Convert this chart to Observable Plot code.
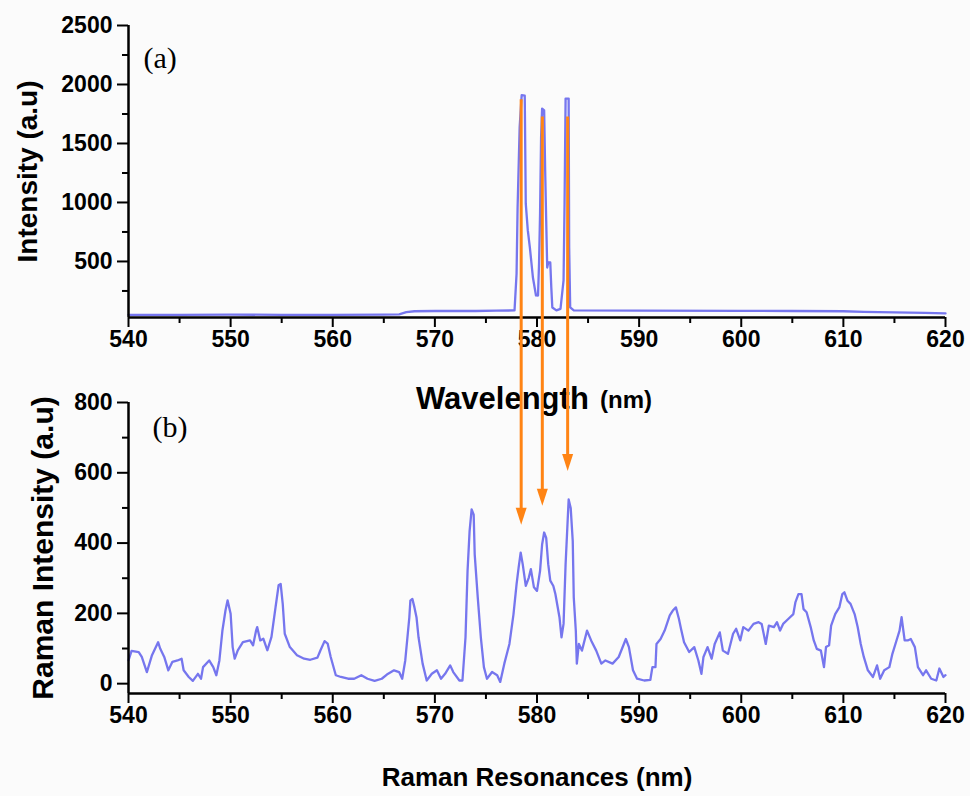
<!DOCTYPE html>
<html><head><meta charset="utf-8">
<script src="https://cdn.jsdelivr.net/npm/d3@7"></script>
<script src="https://cdn.jsdelivr.net/npm/@observablehq/plot@0.6"></script>
<style>
body{margin:0;background:#fbfbfb;}
#wrap{position:relative;width:970px;height:796px;background:#fbfbfb;font-family:"Liberation Sans",Arial,sans-serif;}
#wrap svg{position:absolute;left:0;}
</style></head><body><div id="wrap"></div>
<script>
// ---- data ----
const xDomain = [540, 620];
const xTicks = [540, 550, 560, 570, 580, 590, 600, 610, 620];
const xMinorTicks = [545, 555, 565, 575, 585, 595, 605, 615];

const topYDomain = [25, 2500];
const topYTicks = [500, 1000, 1500, 2000, 2500];
const topYMinor = [250, 750, 1250, 1750, 2250];

const ramanYDomain = [-28, 800];
const ramanYTicks = [0, 200, 400, 600, 800];
const ramanYMinor = [100, 300, 500, 700];

const topWavelength = [540, 545, 550, 555, 560, 565, 566.5, 567.2, 568, 570, 572, 574, 576, 577.8, 578.0, 578.1, 578.3, 578.5, 578.8, 578.9, 579.1, 579.3, 579.6, 579.9, 580.1, 580.2, 580.3, 580.4, 580.5, 580.7, 580.8, 580.9, 581.0, 581.1, 581.3, 581.4, 581.5, 581.9, 582.3, 582.6, 582.7, 582.8, 583.1, 583.15, 583.25, 583.6, 590, 600, 605, 610, 612, 615, 618, 620];
const topIntensity = [48, 48, 49, 48, 48, 49, 52, 70, 78, 80, 82, 80, 83, 85, 398, 958, 1636, 1910, 1905, 990, 763, 620, 364, 212, 211, 483, 907, 1551, 1796, 1780, 1271, 847, 449, 491, 491, 280, 110, 85, 98, 339, 1000, 1881, 1881, 620, 110, 85, 83, 82, 80, 78, 72, 68, 65, 60];

const ramanWavelength = [540, 540.3, 541, 541.3, 541.8, 542.3, 542.9, 543.1, 543.5, 543.9, 544.3, 544.8, 545.2, 545.4, 545.9, 546.3, 546.8, 547.1, 547.3, 547.9, 548.3, 548.6, 548.9, 549.2, 549.5, 549.7, 550.0, 550.2, 550.4, 550.7, 551.2, 551.9, 552.2, 552.5, 552.6, 552.9, 553.2, 553.6, 554.0, 554.4, 554.7, 554.9, 555.1, 555.3, 555.8, 556.5, 557.2, 557.8, 558.5, 558.8, 559.2, 559.5, 559.8, 560.3, 560.8, 561.5, 562.1, 562.8, 563.4, 564.1, 564.8, 565.3, 566.0, 566.5, 566.8, 567.1, 567.5, 567.6, 567.8, 568.0, 568.2, 568.4, 568.8, 569.2, 569.7, 570.2, 570.6, 571.0, 571.5, 571.8, 572.4, 572.7, 573.0, 573.2, 573.4, 573.6, 573.8, 573.9, 574.2, 574.5, 574.8, 575.1, 575.6, 576.1, 576.4, 576.8, 577.3, 577.7, 578.0, 578.2, 578.4, 578.6, 578.9, 579.2, 579.4, 579.7, 580.0, 580.3, 580.5, 580.7, 580.9, 581.1, 581.3, 581.6, 581.8, 582.2, 582.4, 582.6, 582.8, 583.0, 583.1, 583.3, 583.5, 583.6, 583.8, 583.9, 584.1, 584.4, 584.9, 585.3, 585.8, 586.3, 586.7, 587.4, 588.0, 588.7, 589.0, 589.4, 589.8, 590.5, 591.1, 591.3, 591.6, 591.7, 592.1, 592.5, 593.0, 593.3, 593.6, 593.9, 594.1, 594.4, 594.9, 595.4, 595.8, 596.1, 596.3, 596.7, 597.1, 597.4, 597.9, 598.2, 598.7, 599.2, 599.5, 599.9, 600.2, 600.7, 601.2, 601.7, 602.0, 602.4, 602.7, 603.2, 603.5, 603.8, 604.1, 604.6, 605.1, 605.3, 605.6, 605.9, 606.1, 606.4, 606.8, 607.1, 607.4, 607.8, 608.1, 608.3, 608.6, 608.8, 609.2, 609.6, 609.9, 610.1, 610.4, 610.7, 611.1, 611.4, 611.7, 612.0, 612.4, 612.9, 613.3, 613.6, 614.0, 614.5, 614.8, 615.3, 615.5, 615.7, 616.0, 616.3, 616.6, 617.0, 617.3, 617.8, 618.1, 618.6, 619.1, 619.4, 619.8, 620.0];
const ramanIntensity = [66, 93, 90, 76, 33, 81, 118, 100, 76, 38, 62, 66, 71, 38, 19, 8, 28, 14, 47, 66, 47, 24, 66, 152, 209, 237, 199, 104, 71, 95, 118, 123, 109, 152, 161, 123, 128, 95, 133, 218, 280, 284, 228, 142, 104, 81, 71, 68, 74, 95, 121, 114, 76, 24, 19, 14, 14, 24, 14, 8, 14, 26, 38, 33, 14, 66, 189, 236, 241, 217, 189, 132, 57, 9, 28, 38, 14, 28, 52, 33, 9, 9, 132, 321, 434, 496, 481, 368, 245, 132, 47, 14, 33, 24, 5, 57, 113, 198, 283, 330, 373, 340, 278, 302, 326, 274, 264, 321, 396, 430, 415, 340, 293, 278, 255, 189, 132, 170, 340, 463, 524, 500, 406, 245, 151, 57, 113, 94, 151, 123, 94, 57, 66, 57, 76, 127, 104, 38, 14, 9, 11, 47, 47, 113, 127, 151, 194, 208, 217, 184, 156, 118, 90, 104, 66, 28, 76, 104, 71, 113, 146, 94, 85, 142, 156, 123, 161, 151, 170, 175, 170, 113, 165, 161, 175, 151, 170, 184, 198, 231, 255, 255, 212, 203, 161, 123, 99, 94, 47, 104, 109, 165, 198, 217, 255, 260, 236, 227, 198, 161, 113, 76, 38, 19, 52, 14, 38, 47, 85, 132, 151, 189, 123, 123, 127, 104, 47, 24, 38, 14, 9, 43, 19, 24];

// arrows: wavelength, start intensity in (a), end intensity in (b)
const arrowX = [578.5, 580.57, 583.05];
const arrowStart = [1870, 1725, 1725];
const arrowEnd = [451, 505, 604];

// ---- drawing ----
const lineColor = "#7676ee";
const arrowColor = "#ff8414";
const fontFam = "'Liberation Sans', Arial, sans-serif";
const fmt = d => `${d}`;
const tickFont = {fontSize: 23, fontWeight: "bold"};

function axes(yTicks, yMinor) {
  return [
    Plot.axisX(xTicks, {tickSize: 10, tickPadding: 3, ...tickFont, strokeWidth: 2, tickFormat: fmt, label: null}),
    Plot.axisX(xMinorTicks, {tickSize: 6, strokeWidth: 2, tickFormat: () => "", label: null}),
    Plot.axisY(yTicks, {tickSize: 11, tickPadding: 5, ...tickFont, strokeWidth: 2, tickFormat: fmt, label: null}),
    Plot.axisY(yMinor, {tickSize: 6, strokeWidth: 2, tickFormat: () => "", label: null})
  ];
}

const wrap = document.getElementById("wrap");

const topChart = Plot.plot({
  width: 970, height: 370,
  marginLeft: 128, marginRight: 25, marginTop: 25, marginBottom: 53,
  style: {fontFamily: fontFam, background: "transparent", overflow: "visible", color: "#000"},
  x: {domain: xDomain},
  y: {domain: topYDomain},
  marks: [
    ...axes(topYTicks, topYMinor),
    Plot.line(topWavelength, {x: topWavelength, y: topIntensity, stroke: lineColor, strokeWidth: 2.3}),
    Plot.ruleY([topYDomain[0]], {strokeWidth: 2.5}),
    Plot.ruleX([xDomain[0]], {strokeWidth: 2.5}),
    Plot.text(["(a)"], {frameAnchor: "top-left", dx: 15, dy: 33, textAnchor: "start", lineAnchor: "middle", fontFamily: "'Liberation Serif', 'Times New Roman', serif", fontSize: 30}),
    Plot.text(["Intensity (a.u)"], {frameAnchor: "left", dx: -100, rotate: -90, textAnchor: "middle", lineAnchor: "middle", fontSize: 28, fontWeight: "bold"}),
    Plot.text(["Wavelength"], {frameAnchor: "bottom", dx: -121, dy: 82, textAnchor: "start", lineAnchor: "middle", fontSize: 31, fontWeight: "bold"}),
    Plot.text(["(nm)"], {frameAnchor: "bottom", dx: 63, dy: 83, textAnchor: "start", lineAnchor: "middle", fontSize: 24, fontWeight: "bold"})
  ]
});
topChart.style.top = "0px";
wrap.appendChild(topChart);

const bottomChart = Plot.plot({
  width: 970, height: 426,
  marginLeft: 128, marginRight: 25, marginTop: 32, marginBottom: 103,
  style: {fontFamily: fontFam, background: "transparent", overflow: "visible", color: "#000"},
  x: {domain: xDomain},
  y: {domain: ramanYDomain},
  marks: [
    ...axes(ramanYTicks, ramanYMinor),
    Plot.line(ramanWavelength, {x: ramanWavelength, y: ramanIntensity, stroke: lineColor, strokeWidth: 2.3}),
    Plot.ruleY([ramanYDomain[0]], {strokeWidth: 2.5}),
    Plot.ruleX([xDomain[0]], {strokeWidth: 2.5}),
    Plot.text(["(b)"], {frameAnchor: "top-left", dx: 24, dy: 25, textAnchor: "start", lineAnchor: "middle", fontFamily: "'Liberation Serif', 'Times New Roman', serif", fontSize: 30}),
    Plot.text(["Raman Intensity (a.u)"], {frameAnchor: "left", dx: -85, rotate: -90, textAnchor: "middle", lineAnchor: "middle", fontSize: 30, fontWeight: "bold"}),
    Plot.text(["Raman Resonances (nm)"], {frameAnchor: "bottom", dy: 84, textAnchor: "middle", lineAnchor: "middle", fontSize: 26, fontWeight: "bold"})
  ]
});
const bottomTop = 370;
bottomChart.style.top = bottomTop + "px";
wrap.appendChild(bottomChart);

// arrows overlay spanning both panels, positioned through the plots' own scales
const xs = topChart.scale("x"), yTop = topChart.scale("y"), yBot = bottomChart.scale("y");
const overlay = d3.select(wrap).append("svg")
  .attr("width", 970).attr("height", 796)
  .style("position", "absolute").style("top", "0px").style("left", "0px")
  .style("pointer-events", "none");
arrowX.forEach((v, i) => {
  const x = xs.apply(v);
  const y1 = yTop.apply(arrowStart[i]);
  const y2 = yBot.apply(arrowEnd[i]) + bottomTop;
  overlay.append("line")
    .attr("x1", x).attr("x2", x).attr("y1", y1).attr("y2", y2 - 14)
    .attr("stroke", arrowColor).attr("stroke-width", 3);
  overlay.append("path")
    .attr("d", `M${x - 5.5},${y2 - 17}L${x + 5.5},${y2 - 17}L${x},${y2}Z`)
    .attr("fill", arrowColor);
});
</script>
</body></html>
